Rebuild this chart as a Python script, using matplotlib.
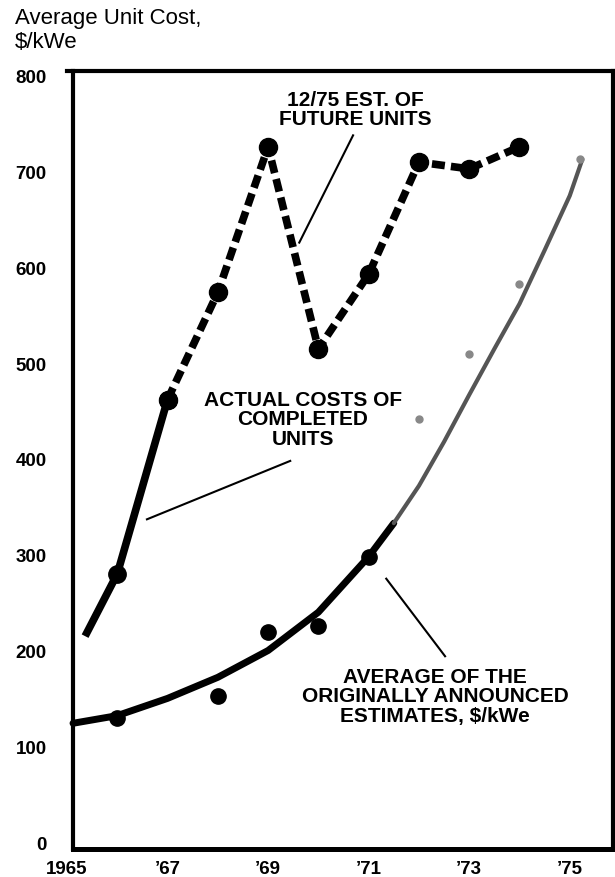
import matplotlib
matplotlib.use("Agg")
import matplotlib.pyplot as plt
from matplotlib import font_manager

# data
actual_years = [1965.36, 1966, 1967]
actual_cost = [215, 280, 462]

future_years = [1967, 1968, 1969, 1970, 1971, 1972, 1973, 1974]
future_cost = [462, 574, 726, 515, 593, 710, 703, 726]

est_years = [1966, 1968, 1969, 1970, 1971]
est_cost = [130, 152, 219, 226, 298]

faint_years = [1972, 1973, 1974, 1975.2]
faint_cost = [442, 510, 583, 713]

trend_years = [1965.12, 1966, 1967, 1968, 1969, 1970, 1971, 1971.5,
               1972, 1972.5, 1973, 1973.5, 1974, 1974.5, 1975, 1975.25]
trend_cost = [124, 132, 150, 172, 200, 240, 298, 333,
              372, 418, 467, 515, 562, 618, 675, 713]

year_ticks = [1965, 1967, 1969, 1971, 1973, 1975]
year_labels = ["1965", "\u201967", "\u201969", "\u201971", "\u201973", "\u201975"]
cost_ticks = [0, 100, 200, 300, 400, 500, 600, 700, 800]

plt.rcParams["font.family"] = ["Liberation Sans", "DejaVu Sans"]

try:
    font_manager.findfont(font_manager.FontProperties(family="Liberation Sans Narrow"),
                          fallback_to_default=False)
    narrow = "Liberation Sans Narrow"
    xfs = 15
except Exception:
    narrow = "Liberation Sans"
    xfs = 13.5

W, H = 615, 878
fig = plt.figure(figsize=(W / 100, H / 100), dpi=100)
ax = fig.add_axes([67 / W, 28 / H, (613 - 67) / W, (850 - 72) / H])
ax.set_xlim(1965.0, 1975.86)
ax.set_ylim(-7.3, 805.2)

ax.spines["left"].set_position(("data", 1965.12))
ax.spines["left"].set_linewidth(3)
ax.spines["bottom"].set_bounds(1965.12, 1975.86)
ax.spines["bottom"].set_linewidth(3.6)
ax.spines["top"].set_linewidth(3)
ax.spines["right"].set_linewidth(3)

ax.set_xticks(year_ticks)
ax.set_xticklabels(year_labels, fontsize=xfs, fontweight="bold", family=narrow)
ax.set_yticks(cost_ticks)
ax.set_yticklabels([str(v) for v in cost_ticks], fontsize=13.5, fontweight="bold")
ax.tick_params(axis="both", length=0)
ax.tick_params(axis="y", pad=19)
ax.tick_params(axis="x", pad=8)

# fitted curve of original estimates
ax.plot(trend_years[:8], trend_cost[:8], color="black", lw=5, solid_capstyle="round")
ax.plot(trend_years[7:], trend_cost[7:], color="#555555", lw=3, solid_capstyle="round")
ax.plot(est_years, est_cost, "o", color="black", ms=11)
ax.plot(faint_years, faint_cost, "o", color="#888888", ms=5)

# actual costs
ax.plot(actual_years, actual_cost, color="black", lw=5.5, solid_capstyle="butt")
ax.plot(actual_years[1:], actual_cost[1:], "o", color="black", ms=12.5)

# 12/75 estimates
ax.plot(future_years, future_cost, color="black", lw=5.5, ls=(0, (1.7, 0.8)),
        dash_capstyle="butt", marker="o", ms=13)

# pointer lines
ax.plot([1970.69, 1969.62], [738, 626], color="black", lw=1.5)
ax.plot([1966.59, 1969.44], [337, 398], color="black", lw=1.5)
ax.plot([1971.35, 1972.52], [275, 194], color="black", lw=1.5)


def px(x, y):
    return x / W, 1 - y / H


fig.text(*px(15, 8), "Average Unit Cost,\n$/kWe", fontsize=16, ha="left", va="top",
         linespacing=1.2)
fig.text(*px(355, 110), "12/75 EST. OF\nFUTURE UNITS", fontsize=15, fontweight="bold",
         ha="center", va="center", linespacing=1.05)
fig.text(*px(303, 420), "ACTUAL COSTS OF\nCOMPLETED\nUNITS", fontsize=15,
         fontweight="bold", ha="center", va="center", linespacing=1.05)
fig.text(*px(435, 697), "AVERAGE OF THE\nORIGINALLY ANNOUNCED\nESTIMATES, $/kWe",
         fontsize=15, fontweight="bold", ha="center", va="center", linespacing=1.05)

fig.savefig("out.png", dpi=100)
